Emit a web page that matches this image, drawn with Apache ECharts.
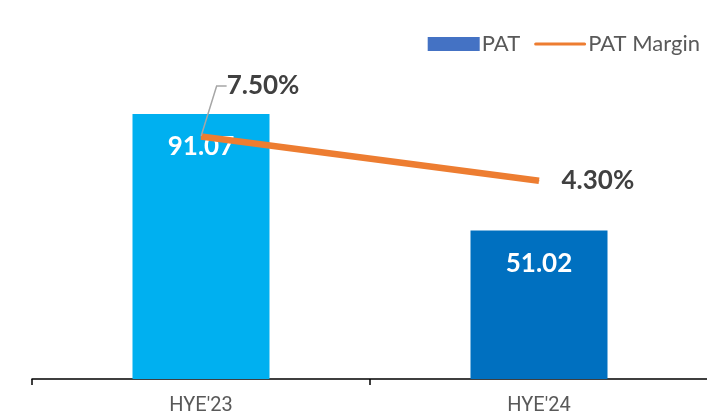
<!DOCTYPE html>
<html>
<head>
<meta charset="utf-8">
<script src="https://cdn.jsdelivr.net/npm/echarts@6/dist/echarts.min.js"></script>
<style>
    html, body { margin: 0; padding: 0; background: #fff; }
    #main { width: 707px; height: 418px; }
</style>
</head>
<body>
<div id="main"></div>
<script>
var categories = ["HYE'23", "HYE'24"];
var patValues = [91.07, 51.02];
var barColors = ['#00B0F0', '#0070C0'];
var marginValues = [7.50, 4.30];

var myChart = echarts.init(document.getElementById('main'));

var barData = patValues.map(function (v, i) {
    return {value: v, itemStyle: {color: barColors[i]}};
});
var lineData = marginValues.map(function (v, i) {
    // first label sits up-right with a leader line, second to the right
    if (i === 0) {
        return {value: v, label: {position: 'top'}, labelLine: {show: true}};
    }
    return {value: v, label: {position: 'right', distance: 22}};
});

var option = {
    animation: false,
    textStyle: {fontFamily: 'Lato, sans-serif'},
    legend: {
        right: 2,
        top: 28,
        itemWidth: 52,
        itemHeight: 14,
        itemGap: 14,
        textStyle: {fontSize: 22, color: '#595959', padding: [0, 0, 0, -3]},
        data: [
            {name: 'PAT', icon: 'rect'},
            {name: 'PAT Margin', icon: 'path://M3,0 L97,0 A3,3 0 0 1 97,6 L3,6 A3,3 0 0 1 3,0 Z'}
        ]
    },
    grid: {
        left: 32,
        right: -1,
        top: 88,
        bottom: 39,
        outerBoundsMode: 'none'
    },
    xAxis: {
        type: 'category',
        data: categories,
        axisLine: {lineStyle: {color: '#000', width: 1.5}},
        axisTick: {show: true, length: 6, lineStyle: {color: '#000', width: 1.5}},
        axisLabel: {
            fontSize: 20,
            color: '#595959',
            margin: 17,
            fontFamily: '"Liberation Sans Narrow", "Roboto", sans-serif'
        }
    },
    yAxis: [
        {type: 'value', min: 0, max: 100, show: false, splitLine: {show: false}},
        {type: 'value', min: -10, max: 11, show: false, splitLine: {show: false}}
    ],
    series: [
        {
            name: 'PAT',
            type: 'bar',
            barWidth: 137,
            itemStyle: {color: '#4472C4'},
            label: {
                show: true,
                position: 'insideTop',
                distance: 20,
                color: '#fff',
                fontSize: 26,
                fontWeight: 'bold'
            },
            data: barData
        },
        {
            name: 'PAT Margin',
            type: 'line',
            yAxisIndex: 1,
            symbol: 'circle',
            symbolSize: 1,
            lineStyle: {color: '#ED7D31', width: 6.5},
            itemStyle: {color: '#ED7D31'},
            label: {
                show: true,
                color: '#404040',
                fontSize: 26,
                fontWeight: 'bold',
                formatter: function (p) { return p.value.toFixed(2) + '%'; }
            },
            labelLine: {
                show: false,
                length2: 10,
                lineStyle: {color: '#A6A6A6', width: 1.5}
            },
            labelLayout: function (params) {
                if (params.dataIndex === 0) {
                    return {dx: 62, dy: -32};
                }
                return {};
            },
            data: lineData
        }
    ]
};
myChart.setOption(option);
</script>
</body>
</html>
